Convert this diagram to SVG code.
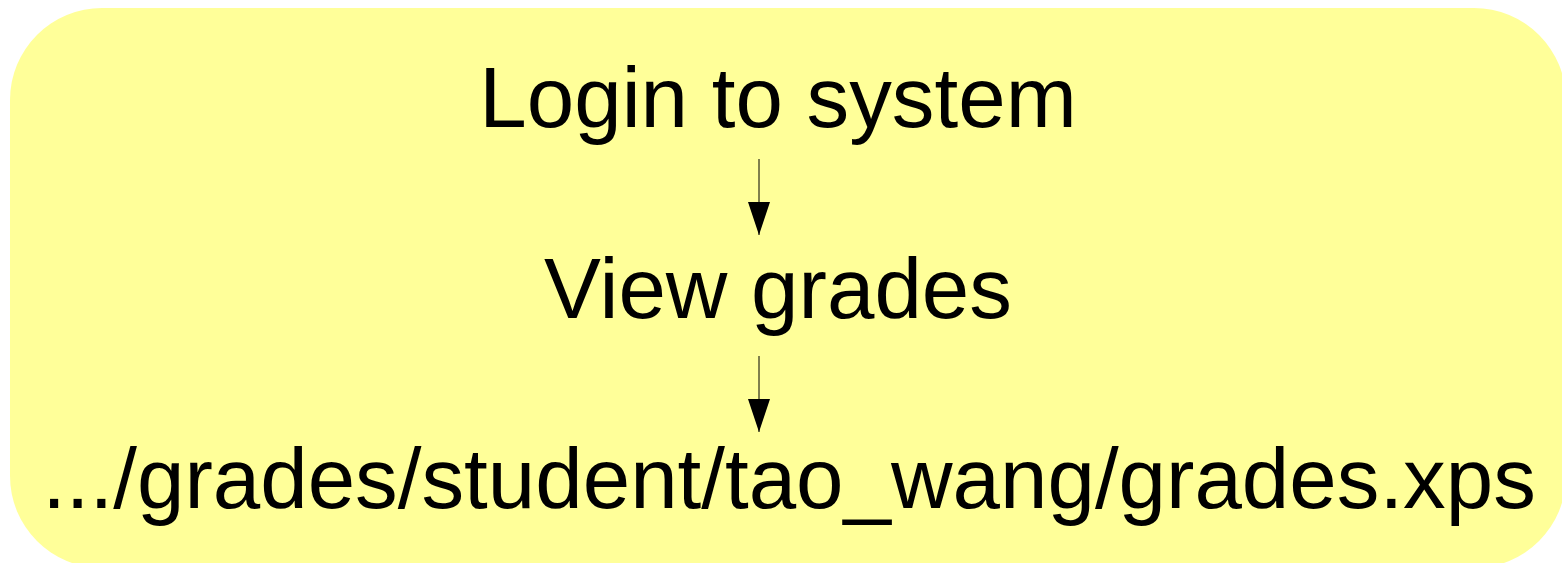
<svg xmlns="http://www.w3.org/2000/svg" width="1562" height="563" viewBox="0 0 1562 563">
<style>
.t{font-family:"Liberation Sans",Arial,sans-serif;font-size:85.3px;fill:#000;text-anchor:middle}
.c{stroke:#000;stroke-width:1;fill:none}
</style>
<defs>
<marker id="ah" markerUnits="userSpaceOnUse" markerWidth="34" markerHeight="24" refX="33" refY="11" orient="auto" viewBox="0 0 34 24">
<path d="M0,0 L33,11 L0,22 Z" fill="#000"/>
</marker>
</defs>
<rect id="bg" x="10" y="8" width="1556" height="560" rx="92" ry="92" fill="#ffff99"/>
<g id="n1"><text class="t" x="778" y="127">Login to system</text></g>
<g id="n2"><text class="t" x="778" y="318">View grades</text></g>
<g id="n3"><text class="t" x="789" y="508">.../grades/student/tao_wang/grades.xps</text></g>
<g id="connectors">
<path class="c" d="M759,159 L759,235" marker-end="url(#ah)"/>
<path class="c" d="M759,356 L759,432" marker-end="url(#ah)"/>
</g>
</svg>
